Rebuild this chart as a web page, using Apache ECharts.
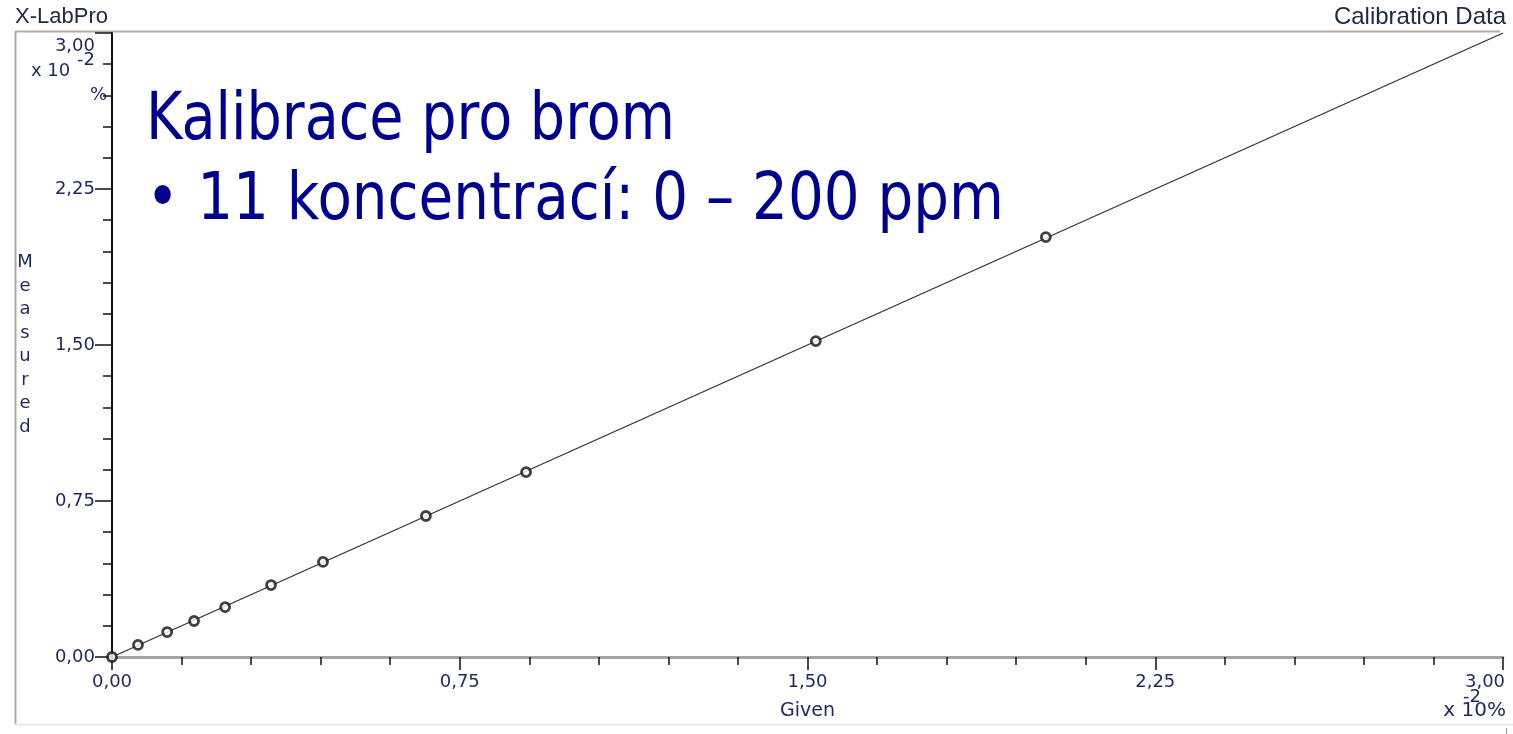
<!DOCTYPE html>
<html>
<head>
<meta charset="utf-8">
<script src="https://cdn.jsdelivr.net/npm/echarts@6/dist/echarts.min.js"></script>
<style>
html,body{margin:0;padding:0;background:#fff;}
#chart{width:1513px;height:734px;}
</style>
</head>
<body>
<div id="chart"></div>
<script>
// ---- data (units: x 10^-2 %) ----
const givenValues    = [0, 0.056, 0.119, 0.177, 0.244, 0.343, 0.455, 0.677, 0.893, 1.518, 2.014];
const measuredValues = [0, 0.058, 0.120, 0.173, 0.240, 0.346, 0.457, 0.678, 0.889, 1.519, 2.019];
const fitLineX = [0, 3];
const fitLineY = [0, 3];
const axisMin = 0;
const axisMax = 3;
const axisStep = 0.75;

const titleLine1 = 'Kalibrace pro brom';
const titleLine2 = '\u2022 11 koncentrac\u00ed: 0 \u2013 200 ppm';
const headerLeft = 'X-LabPro';
const headerRight = 'Calibration Data';
const xName = 'Given';
const yName = 'Measured';

const labelColor = '#1f2858';
const labelFont = 'DejaVu Sans';

function fmt(v){ return v.toFixed(2).replace('.', ','); }

function measure(text, font){
  const c = document.createElement('canvas').getContext('2d');
  c.font = font;
  return c.measureText(text).width;
}
const titleFont = '66px "DejaVu Sans"';
const s1 = 529 / measure(titleLine1, titleFont);
const s2 = 858 / measure(titleLine2, titleFont);

const chart = echarts.init(document.getElementById('chart'), null, {renderer:'canvas'});

const option = {
  animation: false,
  backgroundColor: '#ffffff',
  grid: {left:112, right:10, top:33, bottom:77, containLabel:false},
  xAxis: {
    type:'value', min:axisMin, max:axisMax, interval:axisStep,
    name: xName, nameLocation:'middle', nameGap:54,
    nameTextStyle:{color:labelColor, fontFamily:labelFont, fontSize:19, verticalAlign:'middle'},
    axisLine:{show:true, onZero:false, lineStyle:{color:'#a3a3a3', width:3}},
    axisTick:{show:true, length:13, lineStyle:{color:'#111', width:1.5}},
    minorTick:{show:true, splitNumber:5, length:8, lineStyle:{color:'#111', width:1.5}},
    splitLine:{show:false}, minorSplitLine:{show:false},
    axisLabel:{
      margin:16, color:labelColor, fontFamily:labelFont, fontSize:18,
      formatter: function(v){ return v === axisMax ? '{last|' + fmt(v) + '}' : fmt(v); },
      rich:{ last:{ padding:[0,36,0,0], color:labelColor, fontFamily:labelFont, fontSize:18 } }
    }
  },
  yAxis: {
    type:'value', min:axisMin, max:axisMax, interval:axisStep,
    name: yName.split('').join('\n'), nameLocation:'middle', nameGap:87, nameRotate:0,
    nameTextStyle:{color:labelColor, fontFamily:labelFont, fontSize:18, lineHeight:23.5, align:'center', verticalAlign:'middle'},
    axisLine:{show:true, onZero:false, lineStyle:{color:'#111', width:2}},
    axisTick:{show:true, length:17, lineStyle:{color:'#111', width:1.5}},
    minorTick:{show:true, splitNumber:5, length:9, lineStyle:{color:'#111', width:1.5}},
    splitLine:{show:false}, minorSplitLine:{show:false},
    axisLabel:{
      margin:17, color:labelColor, fontFamily:labelFont, fontSize:18,
      formatter: function(v){ return v === axisMax ? '{last|' + fmt(v) + '}' : fmt(v); },
      rich:{ last:{ padding:[26,0,0,0], color:labelColor, fontFamily:labelFont, fontSize:18 } }
    }
  },
  series: [
    {
      type:'line', data: fitLineX.map((x,i)=>[x, fitLineY[i]]),
      showSymbol:false, symbol:'none', silent:true,
      lineStyle:{color:'#333333', width:1.3}, z:2
    },
    {
      type:'scatter', data: givenValues.map((x,i)=>[x, measuredValues[i]]),
      symbol:'circle', symbolSize:9,
      itemStyle:{color:'#ffffff', borderColor:'#111', borderWidth:2.8}, z:3
    }
  ],
  graphic: [
    // outer frame
    {type:'line', shape:{x1:15, y1:31.5, x2:1500, y2:31.5}, style:{stroke:'#b2ae9f', lineWidth:2}, silent:true},
    {type:'line', shape:{x1:15.5, y1:31, x2:15.5, y2:725}, style:{stroke:'#b2ae9f', lineWidth:2}, silent:true},
    {type:'line', shape:{x1:15, y1:724.5, x2:1513, y2:724.5}, style:{stroke:'#ecebe2', lineWidth:2}, silent:true},
    {type:'line', shape:{x1:1506.5, y1:728, x2:1506.5, y2:734}, style:{stroke:'#999', lineWidth:1}, silent:true},
    // header
    {type:'text', x:15, y:17, style:{text:headerLeft, font:'22px "Liberation Sans"', fill:'#222a40', textAlign:'left', textVerticalAlign:'middle'}},
    {type:'text', x:1506, y:17, style:{text:headerRight, font:'24px "Liberation Sans"', fill:'#222a40', textAlign:'right', textVerticalAlign:'middle'}},
    // y-axis unit
    {type:'text', x:31, y:71, style:{text:'x 10', font:'18px "DejaVu Sans"', fill:labelColor, textAlign:'left', textVerticalAlign:'middle'}},
    {type:'text', x:77, y:60, style:{text:'-2', font:'18px "DejaVu Sans"', fill:labelColor, textAlign:'left', textVerticalAlign:'middle'}},
    {type:'text', x:90, y:95, style:{text:'%', font:'18px "DejaVu Sans"', fill:labelColor, textAlign:'left', textVerticalAlign:'middle'}},
    // x-axis unit
    {type:'text', x:1463, y:697, style:{text:'-2', font:'18px "DejaVu Sans"', fill:labelColor, textAlign:'left', textVerticalAlign:'middle'}},
    {type:'text', x:1506, y:711, style:{text:'x 10%', font:'20px "DejaVu Sans"', fill:labelColor, textAlign:'right', textVerticalAlign:'middle'}},
    // big title overlay
    {type:'text', x:146, y:122, scaleX:s1, z:10, style:{text:titleLine1, font:titleFont, fill:'#00008f', textAlign:'left', textVerticalAlign:'middle'}},
    {type:'text', x:146, y:202, scaleX:s2, z:10, style:{text:titleLine2, font:titleFont, fill:'#00008f', textAlign:'left', textVerticalAlign:'middle'}}
  ]
};
chart.setOption(option);
</script>
</body>
</html>
